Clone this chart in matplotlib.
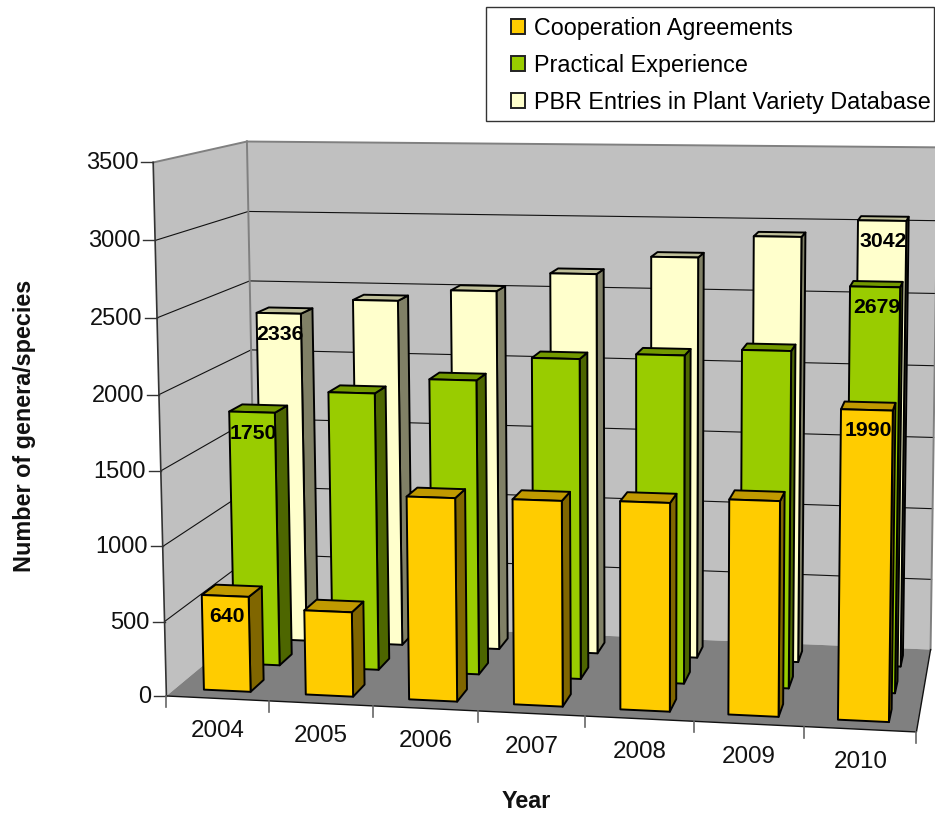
import numpy as np
import matplotlib
matplotlib.use("Agg")
import matplotlib.pyplot as plt
from matplotlib.patches import Polygon, Patch, Rectangle

years = ["2004", "2005", "2006", "2007", "2008", "2009", "2010"]
series_names = ["Cooperation Agreements", "Practical Experience", "PBR Entries in Plant Variety Database"]
cooperation = [640, 565, 1345, 1350, 1360, 1395, 1990]
practical = [1750, 1900, 2005, 2165, 2205, 2250, 2679]
pbr = [2336, 2440, 2520, 2650, 2775, 2925, 3042]
labelled = {(0, 0): 640, (0, 1): 1750, (0, 2): 2336, (6, 0): 1990, (6, 1): 2679, (6, 2): 3042}
yticks = [0, 500, 1000, 1500, 2000, 2500, 3000, 3500]

front = ["#FFCC00", "#99CC00", "#FFFFCC"]
side = ["#806600", "#4D6600", "#808066"]
top = ["#C09900", "#739900", "#BFBF99"]
plt.rcParams["font.family"] = ["Liberation Sans", "DejaVu Sans"]

# camera fitted from where the box corners sit on the page (key corners counted several times)
box = np.array([(0,0,0),(0,0,0),(0,0,0),(7,0,0),(7,0,0),(7,0,0),(0,3,0),(7,3,0),(0,0,3500),(0,0,3500),(0,0,3500),
                (0,3,3500),(7,3,3500),(0,0,2000),(0,3,2000),(7,3,3000),(7,3,2000),(7,3,500)], float)
page = np.array([(166,694),(166,694),(166,694),(917,733),(917,733),(917,733),(257,627),(930,647),(153,163),(153,163),(153,163),
                 (247,140),(938,147),(159,396),(252,348),(937,221),(934,367),(931,578)], float)
rows = []
for (X, Y, Z), (u, v) in zip(box, page):
    rows.append([X, Y, Z, 1, 0, 0, 0, 0, -u*X, -u*Y, -u*Z, -u])
    rows.append([0, 0, 0, 0, X, Y, Z, 1, -v*X, -v*Y, -v*Z, -v])
A = np.array(rows)
scale = np.array([1, 1, 1/500, 1, 1, 1, 1/500, 1, 1, 1, 1/500, 1])
_, _, vt = np.linalg.svd(A * scale)
P = (vt[-1] * scale).reshape(3, 4)


def proj(x, y, z):
    q = P @ np.array([x, y, z, 1.0])
    return q[0] / q[2], q[1] / q[2]


fig = plt.figure(figsize=(9.35, 8.15), dpi=100)
ax = fig.add_axes([0, 0, 1, 1])
ax.set_xlim(0, 935)
ax.set_ylim(815, 0)
ax.axis("off")


def poly(pts, fc, ec, lw=1.4, z=1):
    ax.add_patch(Polygon([proj(*p) for p in pts], closed=True, fc=fc, ec=ec, lw=lw, joinstyle="round", zorder=z))


nx, nd, zmax = len(years), 3, yticks[-1]
# walls and floor
poly([(0,0,0),(0,nd,0),(0,nd,zmax),(0,0,zmax)], "#C0C0C0", "none", 0)
poly([(0,nd,0),(nx,nd,0),(nx,nd,zmax),(0,nd,zmax)], "#C0C0C0", "none", 0)
poly([(0,0,0),(nx,0,0),(nx,nd,0),(0,nd,0)], "#808080", "none", 0)
for t in yticks[1:-1]:
    a, b, c = proj(0,0,t), proj(0,nd,t), proj(nx,nd,t)
    ax.plot([a[0], b[0], c[0]], [a[1], b[1], c[1]], color="#111111", lw=0.8, zorder=1.1)
for p, q in [((0,0,zmax),(0,nd,zmax)), ((0,nd,zmax),(nx,nd,zmax)), ((0,nd,0),(0,nd,zmax)), ((nx,nd,0),(nx,nd,zmax))]:
    a, b = proj(*p), proj(*q)
    ax.plot([a[0], b[0]], [a[1], b[1]], color="#808080", lw=1.4, zorder=1.2)
# axes
a, b = proj(0,0,0), proj(0,0,zmax)
ax.plot([a[0], b[0]], [a[1], b[1]], color="#333333", lw=1.2, zorder=1.3)
a, b, c = proj(0,0,0), proj(nx,0,0), proj(nx,nd,0)
ax.plot([a[0], b[0], c[0]], [a[1], b[1], c[1]], color="#111111", lw=1.0, zorder=1.3)
for t in yticks:
    u, v = proj(0, 0, t)
    ax.plot([u - 12, u], [v, v], color="#333333", lw=1.0, zorder=1.3)
    ax.text(u - 15, v + 1, str(t), ha="right", va="center", fontsize=17, color="#111111")
for i in range(nx + 1):
    u, v = proj(i, 0, 0)
    ax.plot([u, u], [v, v + 11], color="#666666", lw=1.2, zorder=1.3)
for i, y in enumerate(years):
    u, v = proj(i + 0.5, 0, 0)
    ax.text(u, v + 33, y, ha="center", va="center", fontsize=17.4, color="#111111")

# bars
W0, W1 = 0.28, 0.74
D0, D1 = 0.28, 0.72
values = [cooperation, practical, pbr]
order = 2
for j in range(nd - 1, -1, -1):
    for i in range(nx):
        h = values[j][i]
        x0, x1 = i + W0, i + W1
        d0, d1 = j + D0, j + D1
        order += 0.01
        poly([(x1,d0,0),(x1,d1,0),(x1,d1,h),(x1,d0,h)], side[j], "black", z=order)
        poly([(x0,d0,h),(x1,d0,h),(x1,d1,h),(x0,d1,h)], top[j], "black", z=order)
        poly([(x0,d0,0),(x1,d0,0),(x1,d0,h),(x0,d0,h)], front[j], "black", z=order)
        if (i, j) in labelled:
            u, v = proj((x0 + x1) / 2, d0, h)
            ax.text(u + 1.5, v + 21, str(labelled[(i, j)]), ha="center", va="center", fontsize=15.3,
                    fontweight="bold", color="black", zorder=order)

ax.text(25, 426, "Number of genera/species", rotation=90, ha="center", va="center", fontsize=16.8,
        fontweight="bold", color="#111111")
ax.text(526, 801, "Year", ha="center", va="center", fontsize=16.8, fontweight="bold", color="#111111")

ax.add_patch(Rectangle((486, 7), 448, 114, fc="white", ec="#333333", lw=1.0, zorder=5))
handles = [Patch(fc=front[k], ec="#222222", lw=1.4) for k in range(3)]
leg = ax.legend(handles, series_names, loc="upper right", bbox_to_anchor=(934, 14), bbox_transform=ax.transData,
                borderaxespad=0, fontsize=16.8, frameon=False,
                handlelength=0.6, handleheight=0.6, handletextpad=0.38, labelspacing=0.6, borderpad=0.13)
leg.set_zorder(6)

fig.savefig("out.png", dpi=100)
